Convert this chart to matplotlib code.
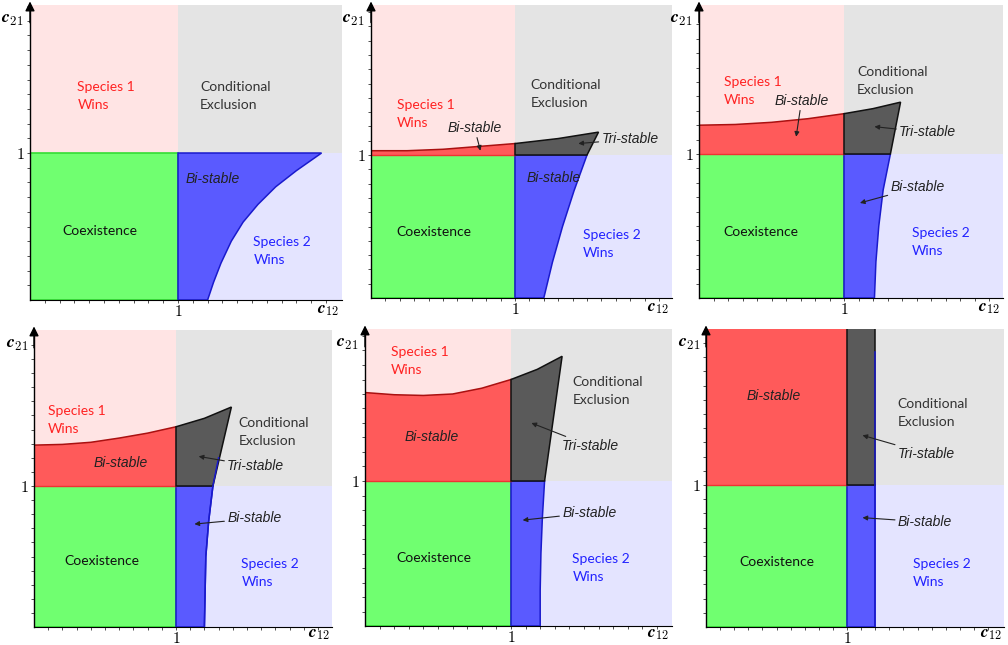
import numpy as np
import matplotlib.pyplot as plt
from matplotlib.patches import Polygon, Rectangle
from matplotlib.transforms import offset_copy

plt.rcParams['mathtext.fontset'] = 'cm'
plt.rcParams['font.family'] = ['Liberation Sans', 'DejaVu Sans']

# ---------------- data ----------------
# Panel 1: only a blue bi-stable region below c21 = 1
p1_blue_c21 = [0.0, 0.12, 0.25, 0.40, 0.53, 0.65, 0.77, 0.88, 1.0]
p1_blue_c12 = [1.20, 1.24, 1.29, 1.36, 1.44, 1.54, 1.66, 1.80, 1.97]

# Panel 2
p2_red_c12 = [0.0, 0.25, 0.5, 0.75, 1.0]
p2_red_c21 = [1.03, 1.03, 1.04, 1.06, 1.08]
p2_tri_c12 = [1.0, 1.3, 1.58, 1.50]
p2_tri_c21 = [1.08, 1.115, 1.16, 1.0]
p2_blue_c21 = [0.0, 0.25, 0.5, 0.75, 1.0]
p2_blue_c12 = [1.20, 1.26, 1.33, 1.41, 1.50]

# Panel 3
p3_red_c12 = [0.0, 0.25, 0.5, 0.75, 1.0]
p3_red_c21 = [1.20, 1.205, 1.22, 1.245, 1.28]
p3_tri_c12 = [1.0, 1.2, 1.39, 1.32]
p3_tri_c21 = [1.28, 1.315, 1.36, 1.0]
p3_blue_c21 = [0.0, 0.25, 0.5, 0.75, 1.0]
p3_blue_c12 = [1.21, 1.22, 1.24, 1.27, 1.32]

# Panel 4
p4_red_c12 = [0.0, 0.2, 0.4, 0.6, 0.8, 1.0]
p4_red_c21 = [1.29, 1.295, 1.31, 1.34, 1.375, 1.42]
p4_tri_c12 = [1.0, 1.2, 1.39, 1.26]
p4_tri_c21 = [1.42, 1.48, 1.56, 1.0]
p4_blue_c21 = [0.0, 0.25, 0.5, 0.75, 1.0, 1.2]
p4_blue_c12 = [1.20, 1.205, 1.21, 1.23, 1.26, 1.30]

# Panel 5
p5_red_c12 = [0.0, 0.2, 0.4, 0.6, 0.8, 1.0]
p5_red_c21 = [1.61, 1.595, 1.59, 1.60, 1.64, 1.70]
p5_tri_c12 = [1.0, 1.18, 1.35, 1.23]
p5_tri_c21 = [1.70, 1.77, 1.86, 1.0]
p5_blue_c21 = [0.0, 0.25, 0.5, 0.75, 1.0]
p5_blue_c12 = [1.20, 1.20, 1.205, 1.215, 1.23]

# Panel 6: everything above c21 = 1 is bi-/tri-stable
p6_red_c12 = [0.0, 1.0]
p6_red_c21 = [2.2, 2.2]
p6_tri_c12 = [1.0, 1.2, 1.2]
p6_tri_c21 = [2.2, 2.2, 1.0]
p6_blue_c21 = [0.0, 1.0, 1.94]
p6_blue_c12 = [1.2, 1.2, 1.2]

# ---------------- styles ----------------
C_PINK = '#FFE4E4'
C_GREY = '#E4E4E4'
C_GREEN = '#70FF70'
C_LBLUE = '#E4E4FF'
C_BLUE = '#5A5AFF'
C_RED = '#FF5A5A'
C_DARK = '#5A5A5A'
T_RED = '#FF2222'
T_BLUE = '#2222FF'
T_GREY = '#333333'
LABEL_FONT = ['Lato', 'Liberation Sans', 'DejaVu Sans']

W, H = 1008, 645
fig = plt.figure(figsize=(W / 100, H / 100), dpi=100)

# pixel layout: (x of c12=0, y of c21=0, x of c12=1, y of c21=1, right px, top px, c12 label drop)
layout = [
    (30, 300, 178, 153, 342, 5, 10),
    (371, 298, 515, 155, 672, 5, 10),
    (699, 298, 844, 154, 1003, 5, 10),
    (34, 627, 176, 486, 332, 330, 8),
    (365, 626, 511, 481, 672, 329, 8),
    (706, 627, 847, 485, 1004, 329, 8),
]

panels = [
    dict(red=None, tri=None, blue=(p1_blue_c12, p1_blue_c21),
         texts=[('sp1', 0.32, 1.39), ('ce', 1.15, 1.39), ('co', 0.47, 0.47),
                ('sp2', 1.51, 0.33)],
         notes=[('Bi-stable', 1.05, 0.82, None)]),
    dict(red=(p2_red_c12, p2_red_c21), tri=(p2_tri_c12, p2_tri_c21),
         blue=(p2_blue_c12, p2_blue_c21),
         texts=[('sp1', 0.18, 1.29), ('ce', 1.11, 1.43), ('co', 0.44, 0.46),
                ('sp2', 1.47, 0.38)],
         notes=[('Bi-stable', 0.53, 1.19, (0.76, 1.03)),
                ('Tri-stable', 1.60, 1.11, (1.44, 1.08)),
                ('Bi-stable', 1.08, 0.84, None)]),
    dict(red=(p3_red_c12, p3_red_c21), tri=(p3_tri_c12, p3_tri_c21),
         blue=(p3_blue_c12, p3_blue_c21),
         texts=[('sp1', 0.17, 1.44), ('ce', 1.09, 1.51), ('co', 0.43, 0.46),
                ('sp2', 1.47, 0.39)],
         notes=[('Bi-stable', 0.52, 1.37, (0.67, 1.12)),
                ('Tri-stable', 1.38, 1.15, (1.21, 1.19)),
                ('Bi-stable', 1.32, 0.77, (1.11, 0.66))]),
    dict(red=(p4_red_c12, p4_red_c21), tri=(p4_tri_c12, p4_tri_c21),
         blue=(p4_blue_c12, p4_blue_c21),
         texts=[('sp1', 0.10, 1.47), ('ce', 1.44, 1.38), ('co', 0.48, 0.47),
                ('sp2', 1.46, 0.38)],
         notes=[('Bi-stable', 0.42, 1.16, None),
                ('Tri-stable', 1.36, 1.14, (1.16, 1.21)),
                ('Bi-stable', 1.36, 0.77, (1.13, 0.73))]),
    dict(red=(p5_red_c12, p5_red_c21), tri=(p5_tri_c12, p5_tri_c21),
         blue=(p5_blue_c12, p5_blue_c21),
         texts=[('sp1', 0.18, 1.83), ('ce', 1.42, 1.62), ('co', 0.47, 0.47),
                ('sp2', 1.42, 0.40)],
         notes=[('Bi-stable', 0.27, 1.30, None),
                ('Tri-stable', 1.35, 1.24, (1.14, 1.40)),
                ('Bi-stable', 1.35, 0.78, (1.08, 0.73))]),
    dict(red=(p6_red_c12, p6_red_c21), tri=(p6_tri_c12, p6_tri_c21),
         blue=(p6_blue_c12, p6_blue_c21),
         texts=[('ce', 1.36, 1.51), ('co', 0.50, 0.46), ('sp2', 1.47, 0.38)],
         notes=[('Bi-stable', 0.29, 1.63, None),
                ('Tri-stable', 1.36, 1.22, (1.11, 1.35)),
                ('Bi-stable', 1.36, 0.74, (1.11, 0.77))]),
]

LABELS = {
    'sp1': (['Species 1', 'Wins'], T_RED),
    'ce': (['Conditional', 'Exclusion'], T_GREY),
    'co': (['Coexistence'], '#111111'),
    'sp2': (['Species 2', 'Wins'], T_BLUE),
}

for (x0, y0, x1, y1, xr, yt, drop), P in zip(layout, panels):
    sx = x1 - x0
    sy = y0 - y1
    xmax = (xr - x0) / sx
    ytop = (y0 - yt) / sy
    ax = fig.add_axes([x0 / W, (H - y0) / H, (xr - x0) / W, (y0 - yt) / H])
    ax.set_xlim(0, xmax)
    ax.set_ylim(0, ytop)

    # quadrant backgrounds
    ax.add_patch(Rectangle((0, 1), 1, ytop, fc=C_PINK, ec='none', zorder=0))
    ax.add_patch(Rectangle((1, 1), xmax, ytop, fc=C_GREY, ec='none', zorder=0))
    ax.add_patch(Rectangle((1, 0), xmax, 1, fc=C_LBLUE, ec='none', zorder=0))
    ax.add_patch(Rectangle((0, 0), 1, 1, fc=C_GREEN, ec='#33DD33', lw=1.2, zorder=1))

    # blue bi-stable region (part with c21 <= 1 is filled, the rest is only a line)
    bx, by = P['blue']
    low = [(x, y) for x, y in zip(bx, by) if y <= 1.0]
    verts = [(1, 0), (1, 1)] + low[::-1]
    ax.add_patch(Polygon(verts, closed=True, fc=C_BLUE, ec='#1a1acc', lw=1.1, zorder=2))

    if P['red'] is not None:
        rx, ry = P['red']
        verts = [(0, 1)] + list(zip(rx, ry)) + [(1, 1)]
        ax.add_patch(Polygon(verts, closed=True, fc=C_RED, ec='none', zorder=2))
        ax.plot(rx, ry, color='#AA1111', lw=1.1, zorder=3, clip_on=True)
        ax.plot([0, 1], [1, 1], color='#EE3333', lw=1.0, zorder=3)
    if P['tri'] is not None:
        tx, ty = P['tri']
        verts = [(1, 1)] + list(zip(tx, ty))
        ax.add_patch(Polygon(verts, closed=True, fc=C_DARK, ec='#111111', lw=1.1, zorder=3))
    # blue boundary continuing above c21 = 1
    if max(by) > 1.0:
        ax.plot(bx, by, color='#1a1acc', lw=1.1, zorder=4)

    # region labels, line by line (18 px apart)
    for key, tx_, ty_ in P['texts']:
        lines, c = LABELS[key]
        ha = 'center' if key == 'co' else 'left'
        n = len(lines)
        for i, s in enumerate(lines):
            off = ((n - 1) / 2 - i) * 18
            tr = offset_copy(ax.transData, fig=fig, x=0, y=off, units='dots')
            ax.text(tx_, ty_, s, color=c, fontsize=10, ha=ha, va='center',
                    zorder=6, family=LABEL_FONT, transform=tr)
    for s, tx_, ty_, target in P['notes']:
        if target is None:
            ax.text(tx_, ty_, s, fontsize=10, style='italic', color='#222222',
                    ha='left', va='center', zorder=6)
        else:
            ax.annotate(s, xy=target, xytext=(tx_, ty_), fontsize=10, style='italic',
                        color='#222222', ha='left', va='center', zorder=6,
                        arrowprops=dict(arrowstyle='-|>', color='#222222', lw=0.8,
                                        mutation_scale=7, shrinkA=0, shrinkB=0))

    # axes decoration
    for s in ['top', 'right']:
        ax.spines[s].set_visible(False)
    ax.spines['left'].set_linewidth(1.0)
    ax.spines['bottom'].set_linewidth(0.8)
    ax.spines['left'].set_zorder(7)
    ax.set_xticks([1])
    ax.set_xticklabels(['$1$'], fontsize=11)
    ax.set_yticks([1])
    ax.set_yticklabels(['$1$'], fontsize=11.5)
    ax.set_xticks(np.arange(1, 21) / 10, minor=True)
    ax.set_yticks(np.arange(1, 21) / 10, minor=True)
    ax.tick_params(which='both', direction='out', length=2.5, width=0.6,
                   color='#333333', pad=1.2)
    ax.tick_params(axis='x', which='major', pad=0.5)
    ax.set_xlim(0, xmax)
    ax.set_ylim(0, ytop)
    ax.annotate('', xy=(0, 1.012), xytext=(0, 0.94), xycoords='axes fraction',
                arrowprops=dict(arrowstyle='-|>', color='black', lw=1.0,
                                mutation_scale=14, shrinkA=0, shrinkB=0))
    ax.text(-0.02, 0.95, r'$\boldsymbol{c}_{\mathbf{21}}$', transform=ax.transAxes,
            ha='right', va='center', fontsize=13)
    tr12 = offset_copy(ax.transAxes, fig=fig, x=0, y=-drop, units='dots')
    ax.text(0.955, 0.0, r'$\boldsymbol{c}_{\mathbf{12}}$', transform=tr12,
            ha='center', va='center', fontsize=12.5)

fig.savefig('out.png', dpi=100)
